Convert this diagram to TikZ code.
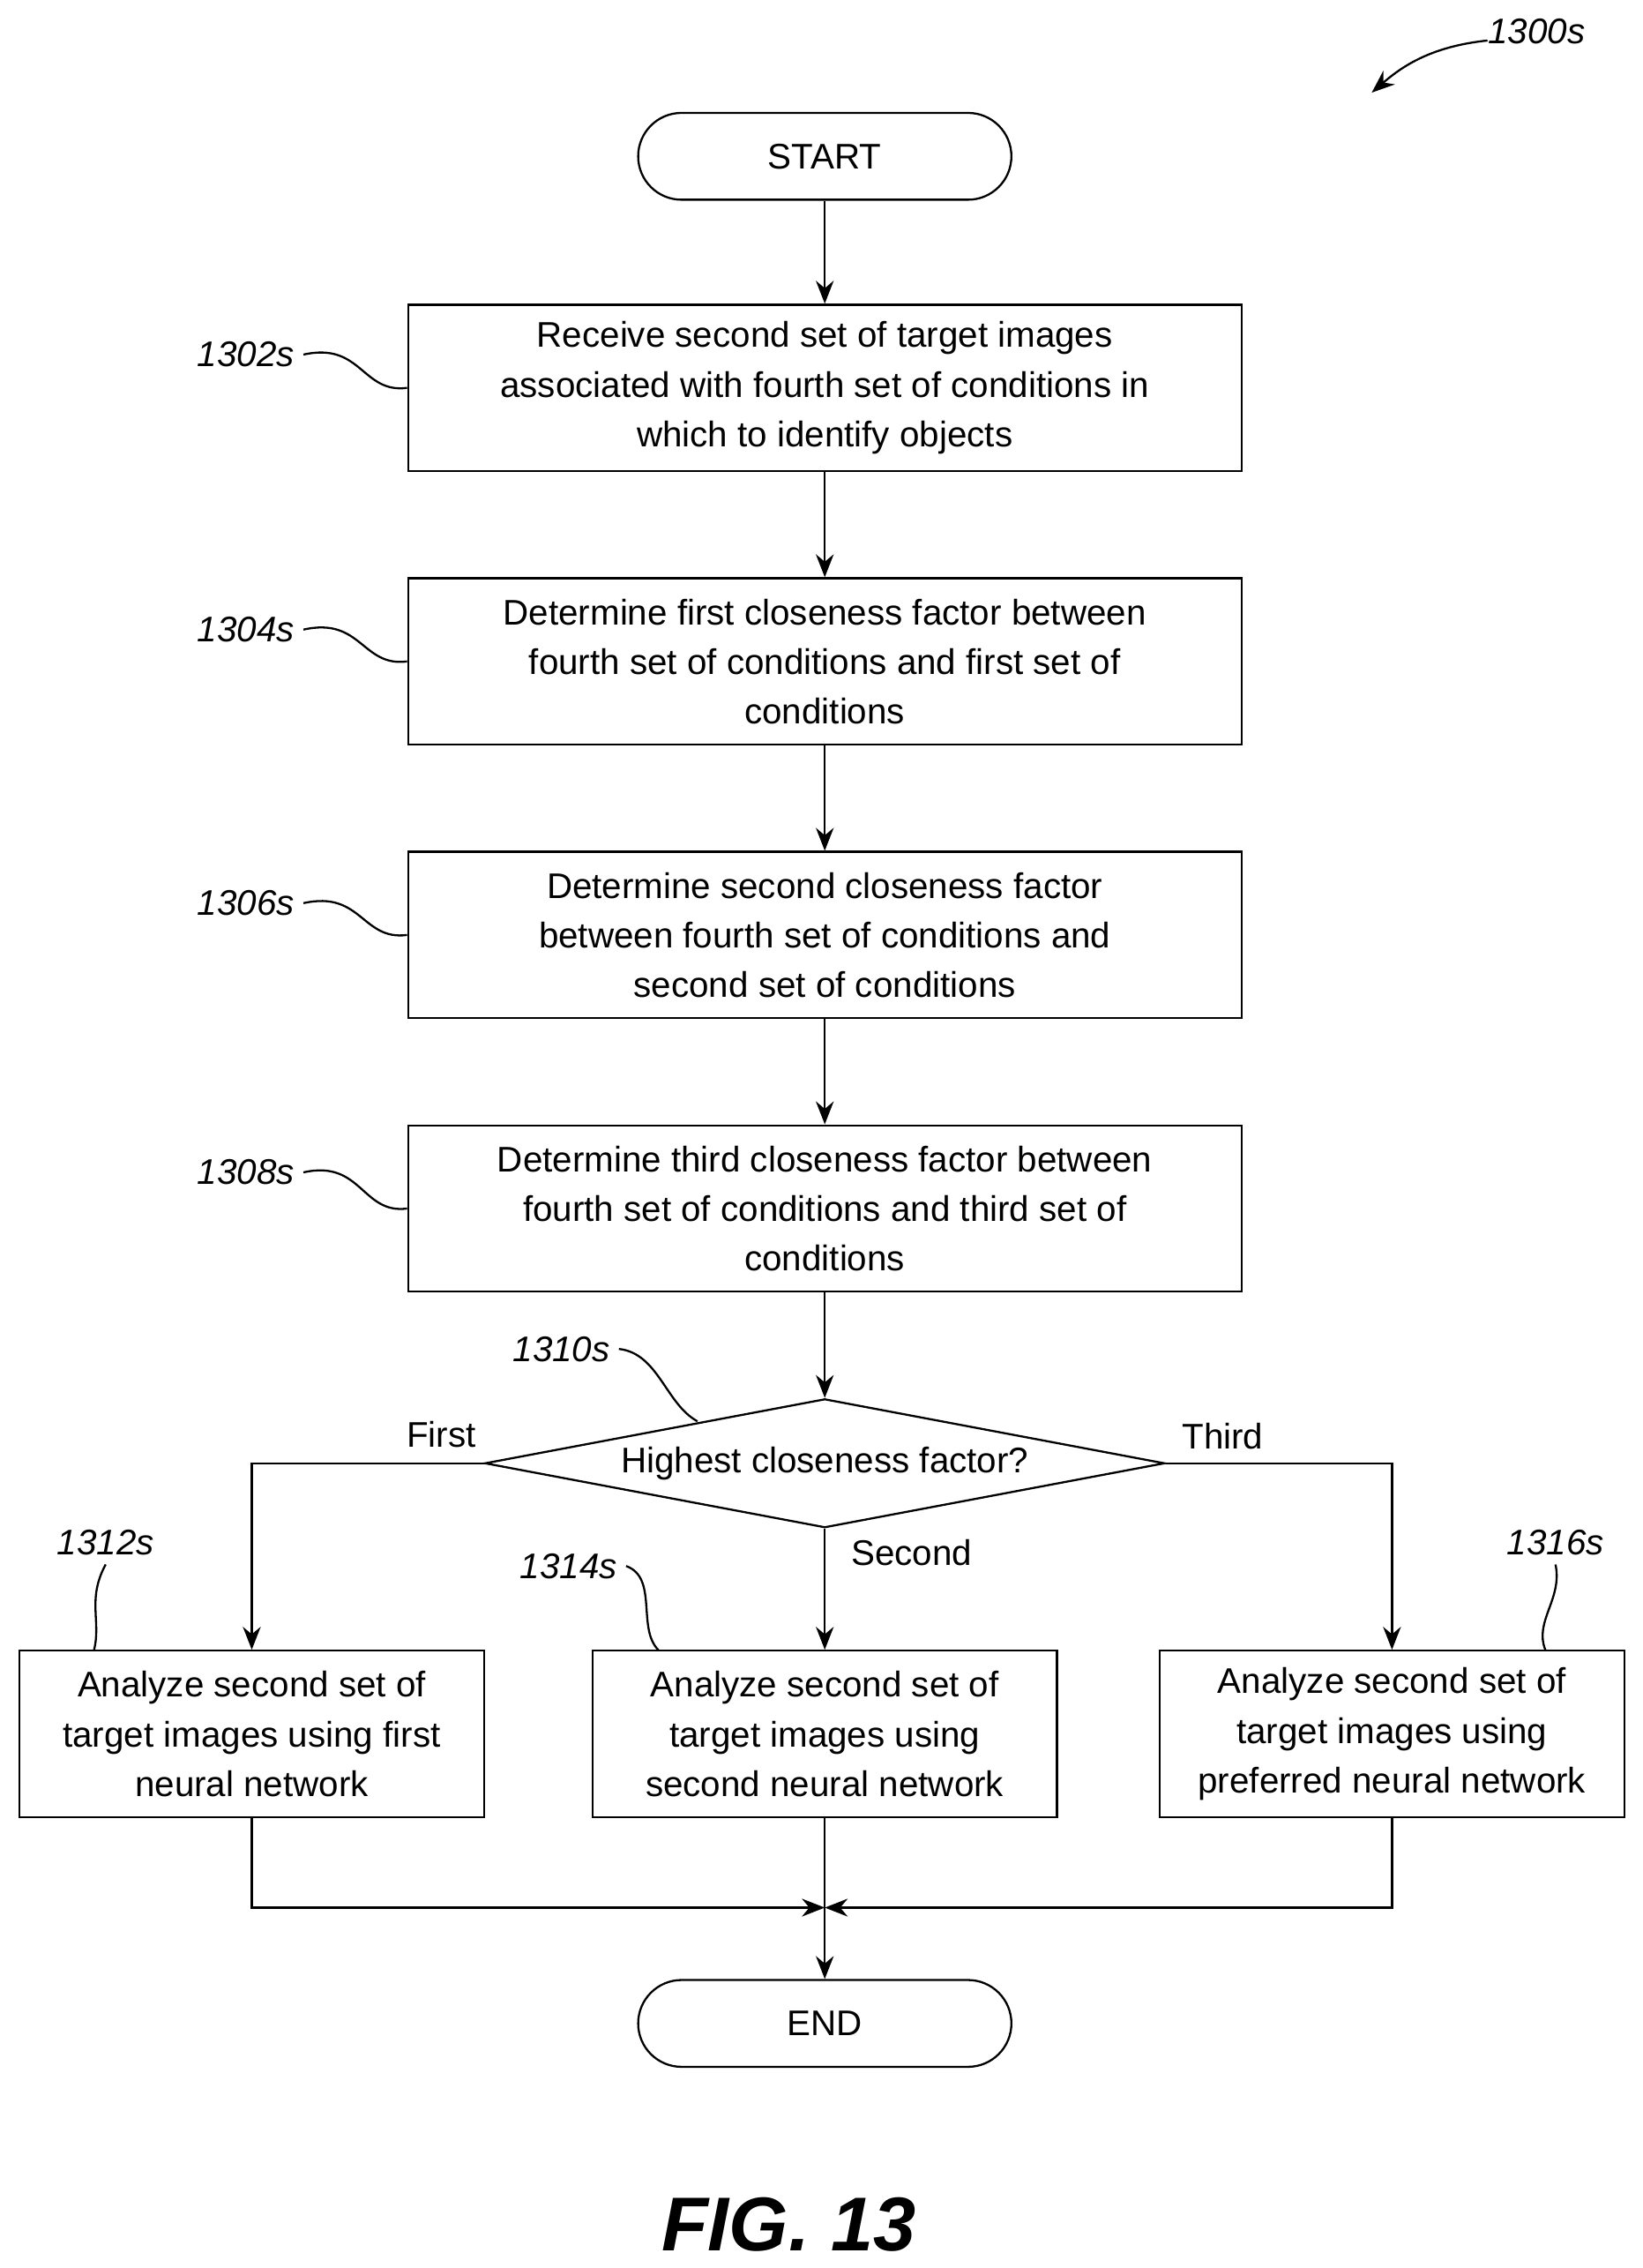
\documentclass[tikz,border=0pt]{standalone}
\usepackage{fontspec}
\setmainfont{Liberation Sans}
\usetikzlibrary{arrows.meta,shapes.geometric,positioning}
\begin{document}
\begin{tikzpicture}[x=0.02cm,y=-0.02cm,
  every node/.style={font=\fontsize{14}{19.5}\selectfont},
  stepbox/.style={draw,thick,align=center,minimum width=11.52cm,minimum height=2.3cm,inner sep=2pt},
  small/.style={draw,thick,align=center,minimum width=6.42cm,minimum height=2.3cm,inner sep=1pt},
  term/.style={draw,thick,rounded corners=0.6cm,minimum width=5.16cm,minimum height=1.2cm},
  ref/.style={font=\fontsize{14}{16}\selectfont\itshape},
  arr/.style={thick,-{Stealth[length=9pt,width=7pt]}},
  lead/.style={thick}]
\useasboundingbox (0,0) rectangle (1135,1567);
  % steps
  \node[term] (start) at (570,108) {START};
  \node[stepbox] (s1302) at (570,268) {Receive second set of target images\\associated with fourth set of conditions in\\which to identify objects};
  \node[stepbox] (s1304) at (570,457) {Determine first closeness factor between\\fourth set of conditions and first set of\\conditions};
  \node[stepbox] (s1306) at (570,646) {Determine second closeness factor\\between fourth set of conditions and\\second set of conditions};
  \node[stepbox] (s1308) at (570,835) {Determine third closeness factor between\\fourth set of conditions and third set of\\conditions};
  \node[draw,thick,diamond,aspect=5.3,minimum width=9.4cm,minimum height=1.78cm,inner sep=0pt] (d1310) at (570,1011) {};
  \node at (570,1011) {Highest closeness factor?};
  \node[small] (s1312) at (174,1198) {Analyze second set of\\target images using first\\neural network};
  \node[small] (s1314) at (570,1198) {Analyze second set of\\target images using\\second neural network};
  \node[small] (s1316) at (962,1198) {Analyze second set of\\target images using\\preferred neural network};
  \node[term] (end) at (570,1398) {END};
  \coordinate (merge) at (570,1318);
  % connectors
  \draw[arr] (start) -- (s1302);
  \draw[arr] (s1302) -- (s1304);
  \draw[arr] (s1304) -- (s1306);
  \draw[arr] (s1306) -- (s1308);
  \draw[arr] (s1308) -- (d1310);
  \draw[arr] (d1310.west) -| (s1312.north);
  \draw[arr] (d1310.south) -- (s1314.north);
  \draw[arr] (d1310.east) -| (s1316.north);
  \draw[arr] (s1312.south) |- (merge);
  \draw[arr] (s1316.south) |- (merge);
  \draw[arr] (s1314.south) -- (end);
  \node at (305,991) {First};
  \node at (845,992) {Third};
  \node at (630,1073) {Second};
  % reference labels
  \node[ref] (r1300) at (1062,22) {1300s};
  \draw[thick,-{Stealth[length=9pt,width=7pt]}] (1028,28) .. controls (990,32) and (970,45) .. (948,64);
  \node[ref] (r1302) at (170,245) {1302s};
  \draw[lead] (r1302.east) .. controls (250,236) and (250,272) .. (s1302.west);
  \node[ref] (r1304) at (170,435) {1304s};
  \draw[lead] (r1304.east) .. controls (250,426) and (250,461) .. (s1304.west);
  \node[ref] (r1306) at (170,624) {1306s};
  \draw[lead] (r1306.east) .. controls (250,615) and (250,650) .. (s1306.west);
  \node[ref] (r1308) at (170,810) {1308s};
  \draw[lead] (r1308.east) .. controls (250,801) and (250,839) .. (s1308.west);
  \node[ref] (r1310) at (388,932) {1310s};
  \draw[lead] (r1310.east) .. controls (455,935) and (460,970) .. (482,982);
  \node[ref] (r1312) at (73,1066) {1312s};
  \draw[lead] (r1312.south) .. controls (60,1105) and (70,1120) .. (65,1140);
  \node[ref] (r1314) at (393,1082) {1314s};
  \draw[lead] (r1314.east) .. controls (455,1090) and (440,1125) .. (455,1140);
  \node[ref] (r1316) at (1075,1066) {1316s};
  \draw[lead] (r1316.south) .. controls (1080,1105) and (1060,1120) .. (1068,1140);
  \node[font=\fontsize{30}{34}\selectfont\bfseries\itshape] (fig) at (545,1537) {FIG. 13};
\end{tikzpicture}
\end{document}
